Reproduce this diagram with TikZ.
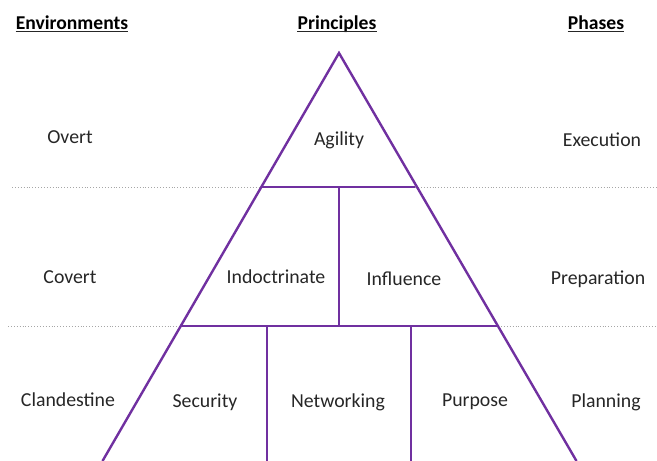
\documentclass[tikz,border=0pt]{standalone}
\usepackage{fontspec}
\setmainfont{Carlito}
\definecolor{pyr}{HTML}{7030A0}
\begin{document}
\begin{tikzpicture}[x=1pt,y=-1pt,
  edge/.style={draw=pyr,line width=2.4pt},
  sep/.style={draw=gray!70,dotted,line width=0.9pt},
  lbl/.style={font=\fontsize{19.8}{22}\selectfont,text=black!85,inner sep=0pt},
  hdr/.style={font=\fontsize{19.6}{22}\bfseries\selectfont,inner sep=0pt,anchor=base},
  uline/.style={draw=black!85,line width=1.3pt}]
\useasboundingbox (0,0) rectangle (657,461);
% coordinates
\coordinate (apex) at (339,53);
\coordinate (l1) at (262,187);
\coordinate (r1) at (415,187);
\coordinate (l2) at (181,326);
\coordinate (r2) at (498,326);
\coordinate (l3) at (102.5,461);
\coordinate (r3) at (576.5,461);
\coordinate (m1) at (339,187);
\coordinate (m2) at (339,326);
\coordinate (a2) at (267,326);
\coordinate (a3) at (267,461);
\coordinate (b2) at (411,326);
\coordinate (b3) at (411,461);
\coordinate (d1s) at (12,187);
\coordinate (d1e) at (657,187);
\coordinate (d2s) at (8,326);
\coordinate (d2e) at (657,326);
% dotted separators
\draw[sep] (d1s) -- (d1e);
\draw[sep] (d2s) -- (d2e);
% pyramid
\draw[edge,line join=miter] (l3) -- (apex) -- (r3);
\draw[edge] (l1) -- (r1);
\draw[edge] (l2) -- (r2);
\draw[edge] (m1) -- (m2);
\draw[edge] (a2) -- (a3);
\draw[edge] (b2) -- (b3);
% headers
\node[hdr] (henv) at (72,29) {Environments};
\node[hdr] (hpri) at (337,29) {Principles};
\node[hdr] (hpha) at (596,29) {Phases};
\foreach \h in {henv,hpri,hpha}
  \draw[uline] ([yshift=-2.4pt]\h.base west) -- ([yshift=-2.4pt]\h.base east);
% labels
\node[lbl] (overt) at (70,137) {Overt};
\node[lbl] (agility) at (339,140) {Agility};
\node[lbl] (exec) at (602,140) {Execution};
\node[lbl] (covert) at (70,277) {Covert};
\node[lbl] (indoc) at (276,277) {Indoctrinate};
\node[lbl] (infl) at (404,279) {Influence};
\node[lbl] (prep) at (598,279) {Preparation};
\node[lbl] (cland) at (68,400) {Clandestine};
\node[lbl] (secu) at (205,402) {Security};
\node[lbl] (netw) at (338,402) {Networking};
\node[lbl] (purp) at (475,402) {Purpose};
\node[lbl] (plan) at (606,402) {Planning};
\end{tikzpicture}
\end{document}
